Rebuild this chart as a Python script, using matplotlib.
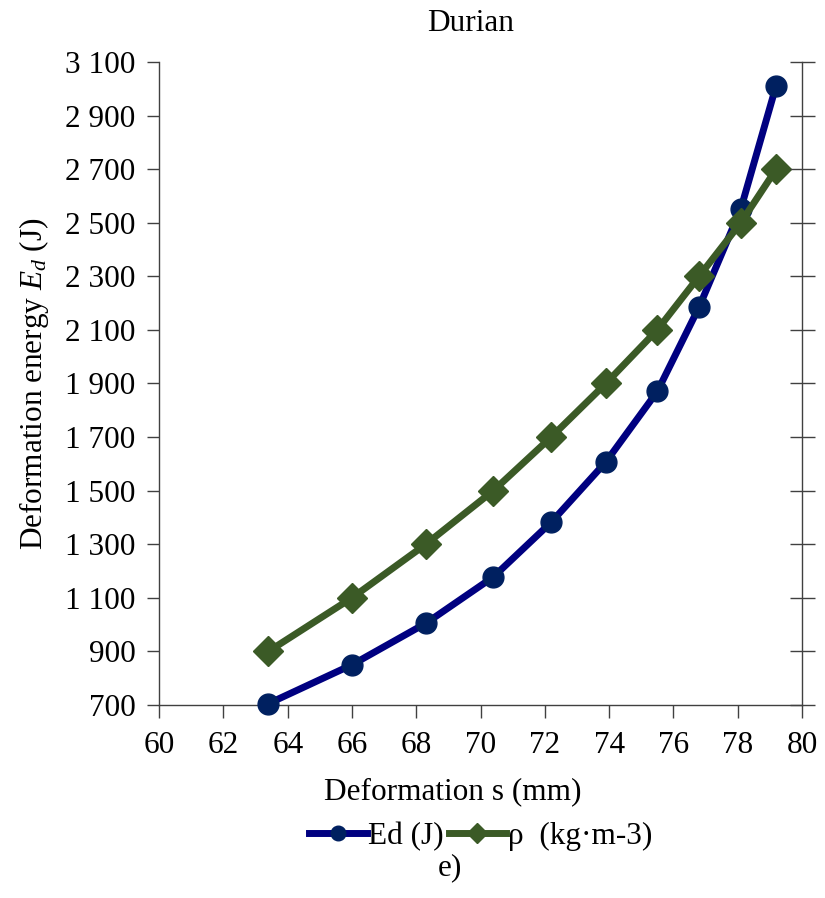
import matplotlib.pyplot as plt
from matplotlib.ticker import FuncFormatter, MultipleLocator

plt.rcParams['font.family'] = ['Liberation Serif', 'DejaVu Serif']
plt.rcParams['mathtext.fontset'] = 'custom'
plt.rcParams['mathtext.rm'] = 'Liberation Serif'
plt.rcParams['mathtext.it'] = 'Liberation Serif:italic'

# values
deformation = [63.4, 66.0, 68.3, 70.4, 72.2, 73.9, 75.5, 76.8, 78.1, 79.2]
energy = [705, 850, 1005, 1178, 1382, 1607, 1870, 2185, 2552, 3012]
density = [900, 1100, 1300, 1500, 1700, 1900, 2100, 2300, 2500, 2700]
y_ticks = list(range(700, 3101, 200))

fs = 22.5

fig = plt.figure(figsize=(8.25, 8.98), dpi=100)
ax = fig.add_axes([0.193, 0.215, 0.779, 0.716])

ax.plot(deformation, energy, color='#000080', lw=5, marker='o',
        ms=15, mfc='#002060', mec='#002060', label='Ed (J)', zorder=3,
        clip_on=False)
ax.plot(deformation, density, color='#3B5A26', lw=5, marker='D',
        ms=15, mfc='#3B5A26', mec='#3B5A26', label='ρ  (kg·m-3)', zorder=3,
        clip_on=False)

ax.set_xlim(60, 80)
ax.set_ylim(700, 3100)
ax.xaxis.set_major_locator(MultipleLocator(2))
ax.set_yticks(y_ticks)
ax.yaxis.set_major_formatter(FuncFormatter(lambda v, p: f"{int(v):,}".replace(',', ' ')))

ax.spines['top'].set_visible(False)
for s in ['left', 'right', 'bottom']:
    ax.spines[s].set_linewidth(1.0)
    ax.spines[s].set_color('#404040')

ax.tick_params(axis='both', labelsize=fs, length=9, width=1, color='#404040')
ax.tick_params(axis='x', pad=10)
ax.tick_params(axis='y', right=False, pad=8)

# right-side ticks crossing the right spine
axr = ax.twinx()
axr.set_ylim(ax.get_ylim())
axr.set_yticks(y_ticks)
axr.tick_params(axis='y', direction='inout', length=18, width=1,
                color='#404040', labelright=False)
for s in axr.spines.values():
    s.set_visible(False)

ax.set_xlabel('Deformation s (mm)', fontsize=fs, labelpad=12, x=0.456)
ax.set_ylabel('Deformation energy $E_d$ (J)', fontsize=fs, labelpad=10)
ax.set_title('Durian', fontsize=fs, pad=22, x=0.484)

leg = ax.legend(loc='upper center', bbox_to_anchor=(0.5, -0.153), ncol=2,
                fontsize=fs, frameon=False, handlelength=1.85,
                handletextpad=0.05, columnspacing=0.15, markerscale=0.7,
                borderpad=0.1)

fig.text(0.545, 0.025, 'e)', fontsize=fs, ha='center')

fig.savefig('out.png', dpi=100)
